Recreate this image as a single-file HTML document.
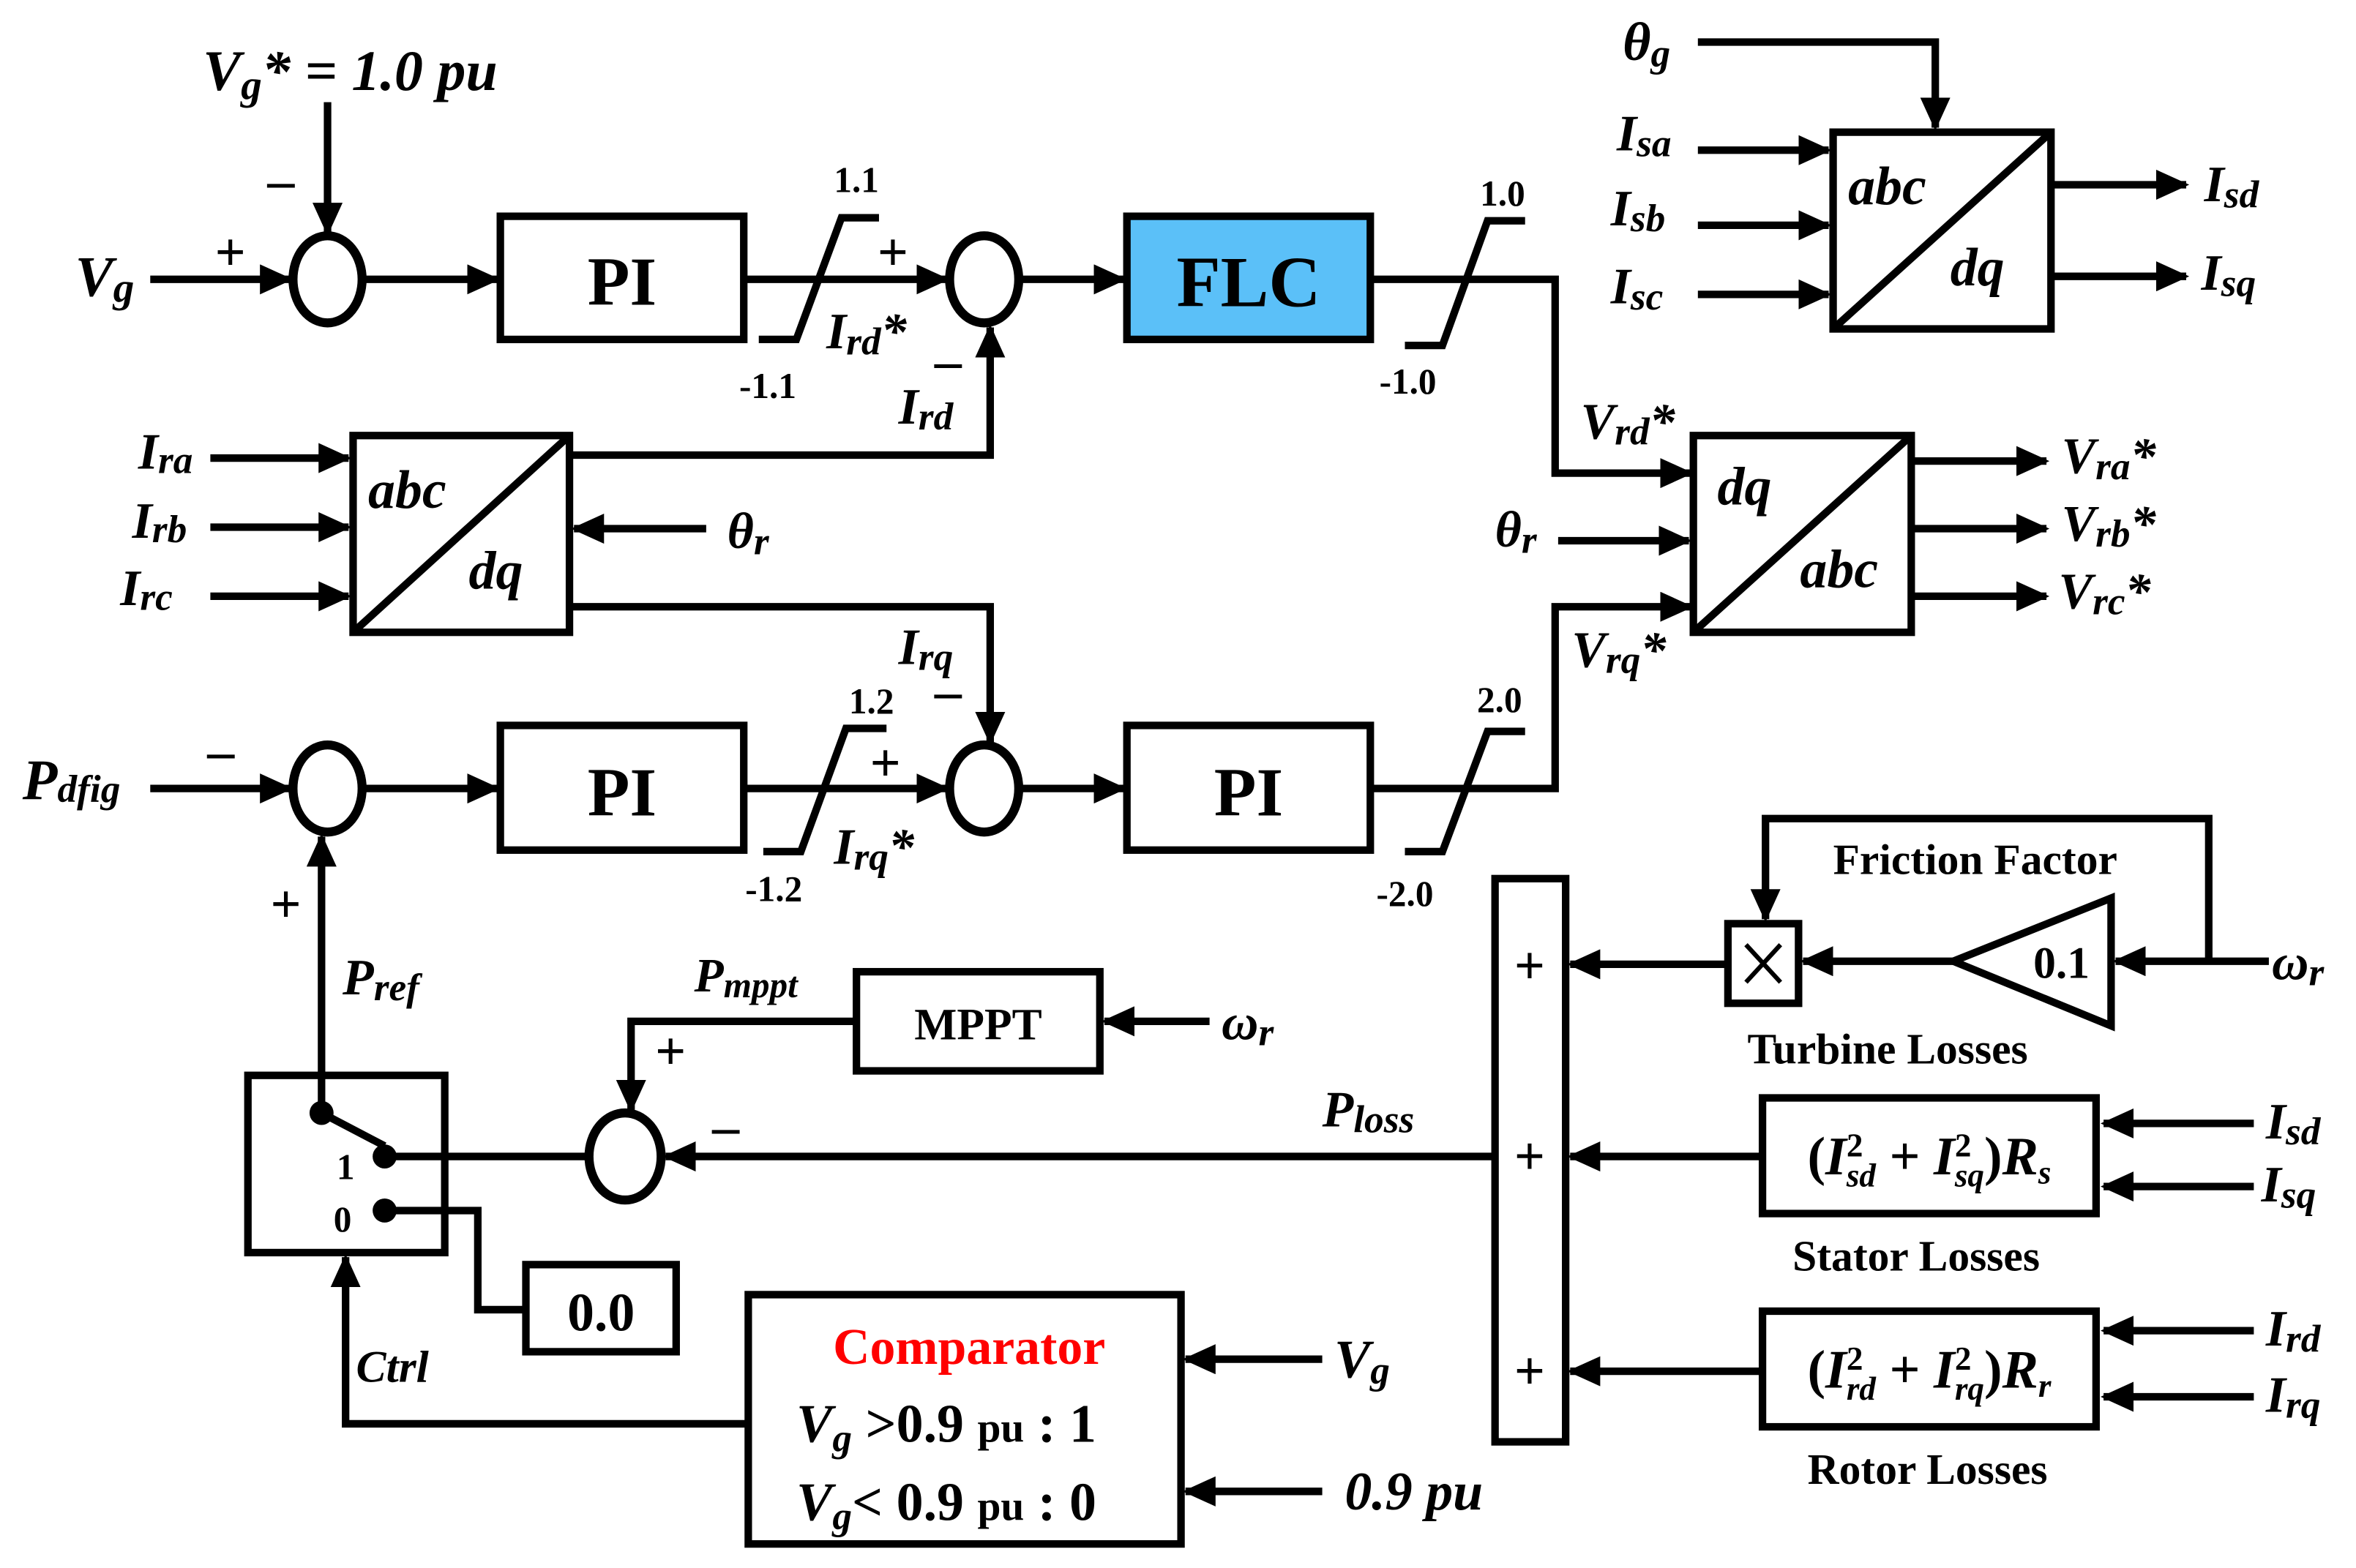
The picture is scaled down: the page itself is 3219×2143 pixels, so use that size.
<!DOCTYPE html>
<html><head><meta charset="utf-8"><style>
html,body{margin:0;padding:0;background:#fff;}
svg{display:block;}
text{font-family:"Liberation Serif",serif;font-weight:bold;fill:#000;}
.i{font-style:italic;}
</style></head><body>
<svg width="3219" height="2143" viewBox="0 0 1568 1044" preserveAspectRatio="none" xmlns="http://www.w3.org/2000/svg">
<defs>
<marker id="a" markerUnits="userSpaceOnUse" markerWidth="22" markerHeight="20" refX="20" refY="10" orient="auto"><path d="M0,0 L22,10 L0,20 Z" fill="#000"/></marker>
</defs>
<g fill="none" stroke="#000" stroke-width="5">
<line x1="218" y1="68" x2="218" y2="155" marker-end="url(#a)"/>
<ellipse cx="218" cy="186" rx="23" ry="29" stroke-width="6"/>
<line x1="100" y1="186" x2="193" y2="186" marker-end="url(#a)"/>
<line x1="241" y1="186" x2="331" y2="186" marker-end="url(#a)"/>
<rect x="333" y="144" width="162" height="82"/>
<line x1="495" y1="186" x2="630" y2="186" marker-end="url(#a)"/>
<polyline points="505,226 530,226 560,145 585,145"/>
<ellipse cx="655" cy="186" rx="23" ry="29" stroke-width="6"/>
<line x1="678" y1="186" x2="748" y2="186" marker-end="url(#a)"/>
<rect x="750" y="144" width="162" height="82" fill="#5bc0f8"/>
<polyline points="912,186 1035,186 1035,315 1125,315" marker-end="url(#a)"/>
<polyline points="935,230 960,230 990,147 1015,147"/>
<rect x="235" y="290" width="144" height="131"/>
<line x1="235" y1="421" x2="379" y2="290"/>
<line x1="140" y1="305" x2="232" y2="305" marker-end="url(#a)"/>
<line x1="140" y1="351" x2="232" y2="351" marker-end="url(#a)"/>
<line x1="140" y1="397" x2="232" y2="397" marker-end="url(#a)"/>
<line x1="470" y1="352" x2="382" y2="352" marker-end="url(#a)"/>
<polyline points="379,303 659,303 659,218" marker-end="url(#a)"/>
<polyline points="379,404 659,404 659,494" marker-end="url(#a)"/>
<line x1="100" y1="525" x2="193" y2="525" marker-end="url(#a)"/>
<ellipse cx="218" cy="525" rx="23" ry="29" stroke-width="6"/>
<line x1="241" y1="525" x2="331" y2="525" marker-end="url(#a)"/>
<rect x="333" y="483" width="162" height="83"/>
<line x1="495" y1="525" x2="630" y2="525" marker-end="url(#a)"/>
<polyline points="508,567 533,567 563,485 590,485"/>
<ellipse cx="655" cy="525" rx="23" ry="29" stroke-width="6"/>
<line x1="678" y1="525" x2="748" y2="525" marker-end="url(#a)"/>
<rect x="750" y="483" width="162" height="83"/>
<polyline points="912,525 1035,525 1035,404 1125,404" marker-end="url(#a)"/>
<polyline points="935,567 960,567 990,487 1015,487"/>
<rect x="1127" y="290" width="145" height="131"/>
<line x1="1127" y1="421" x2="1272" y2="290"/>
<line x1="1037" y1="360" x2="1124" y2="360" marker-end="url(#a)"/>
<line x1="1272" y1="307" x2="1362" y2="307" marker-end="url(#a)"/>
<line x1="1272" y1="352" x2="1362" y2="352" marker-end="url(#a)"/>
<line x1="1272" y1="397" x2="1362" y2="397" marker-end="url(#a)"/>
<polyline points="1130,28 1288,28 1288,85" marker-end="url(#a)"/>
<rect x="1220" y="88" width="145" height="131"/>
<line x1="1220" y1="219" x2="1365" y2="88"/>
<line x1="1130" y1="100" x2="1217" y2="100" marker-end="url(#a)"/>
<line x1="1130" y1="150" x2="1217" y2="150" marker-end="url(#a)"/>
<line x1="1130" y1="196" x2="1217" y2="196" marker-end="url(#a)"/>
<line x1="1365" y1="123" x2="1455" y2="123" marker-end="url(#a)"/>
<line x1="1365" y1="184" x2="1455" y2="184" marker-end="url(#a)"/>
<line x1="214" y1="740" x2="214" y2="557" marker-end="url(#a)"/>
<rect x="165" y="716" width="131" height="118"/>
<line x1="214" y1="741" x2="256" y2="763"/>
<line x1="262" y1="770" x2="392" y2="770"/>
<ellipse cx="416" cy="770" rx="24" ry="29" stroke-width="6"/>
<polyline points="256,806 318,806 318,872 350,872"/>
<rect x="350" y="842" width="100" height="58"/>
<polyline points="498,948 230,948 230,837" marker-end="url(#a)"/>
<rect x="570" y="647" width="162" height="66"/>
<line x1="805" y1="680" x2="735" y2="680" marker-end="url(#a)"/>
<polyline points="570,680 420,680 420,739" marker-end="url(#a)"/>
<rect x="498" y="862" width="288" height="166"/>
<line x1="880" y1="905" x2="789" y2="905" marker-end="url(#a)"/>
<line x1="880" y1="993" x2="789" y2="993" marker-end="url(#a)"/>
<line x1="995" y1="770" x2="443" y2="770" marker-end="url(#a)"/>
<rect x="995" y="585" width="47" height="375"/>
<line x1="1148" y1="642" x2="1045" y2="642" marker-end="url(#a)"/>
<line x1="1173" y1="770" x2="1045" y2="770" marker-end="url(#a)"/>
<line x1="1173" y1="913" x2="1045" y2="913" marker-end="url(#a)"/>
<rect x="1150" y="615" width="47" height="53"/>
<line x1="1162" y1="629" x2="1185" y2="654" stroke-width="3"/>
<line x1="1185" y1="629" x2="1162" y2="654" stroke-width="3"/>
<polygon points="1300,640 1405,598 1405,683"/>
<line x1="1300" y1="640" x2="1200" y2="640" marker-end="url(#a)"/>
<line x1="1510" y1="640" x2="1408" y2="640" marker-end="url(#a)"/>
<polyline points="1470,640 1470,545 1175,545 1175,612" marker-end="url(#a)"/>
<rect x="1173" y="731" width="222" height="77"/>
<rect x="1173" y="873" width="222" height="77"/>
<line x1="1500" y1="748" x2="1400" y2="748" marker-end="url(#a)"/>
<line x1="1500" y1="790" x2="1400" y2="790" marker-end="url(#a)"/>
<line x1="1500" y1="886" x2="1400" y2="886" marker-end="url(#a)"/>
<line x1="1500" y1="930" x2="1400" y2="930" marker-end="url(#a)"/>
</g>
<g fill="#000">
<circle cx="214" cy="741" r="8"/><circle cx="256" cy="770" r="8"/><circle cx="256" cy="806" r="8"/>
</g>
<text class="i" x="135" y="60" font-size="38">V<tspan font-size="28" dy="6">g</tspan><tspan dy="-6">* = 1.0 pu</tspan></text>
<text x="178" y="132" font-size="36">–</text>
<text x="143" y="180" font-size="36">+</text>
<text class="i" x="50" y="197" font-size="38">V<tspan font-size="28" dy="4">g</tspan></text>
<text x="414" y="203" font-size="46" text-anchor="middle">PI</text>
<text x="555" y="128" font-size="24">1.1</text>
<text x="492" y="265" font-size="24">-1.1</text>
<text x="584" y="180" font-size="36">+</text>
<text class="i" x="550" y="232" font-size="34">I<tspan font-size="26" dy="4">rd</tspan><tspan dy="-4">*</tspan></text>
<text x="831" y="204" font-size="48" text-anchor="middle">FLC</text>
<text x="985" y="137" font-size="24">1.0</text>
<text x="918" y="262" font-size="24">-1.0</text>
<text x="622" y="252" font-size="36">–</text>
<text class="i" x="598" y="282" font-size="34">I<tspan font-size="26" dy="4">rd</tspan></text>
<text class="i" x="92" y="312" font-size="34">I<tspan font-size="26" dy="3">ra</tspan></text>
<text class="i" x="88" y="358" font-size="34">I<tspan font-size="26" dy="3">rb</tspan></text>
<text class="i" x="80" y="403" font-size="34">I<tspan font-size="26" dy="3">rc</tspan></text>
<text class="i" x="245" y="338" font-size="36">abc</text>
<text class="i" x="312" y="392" font-size="36">dq</text>
<text class="i" x="484" y="365" font-size="34">θ<tspan font-size="26" dy="4">r</tspan></text>
<text class="i" x="598" y="442" font-size="34">I<tspan font-size="26" dy="4">rq</tspan></text>
<text x="622" y="472" font-size="36">–</text>
<text class="i" x="15" y="532" font-size="38">P<tspan font-size="26" dy="2">dfig</tspan></text>
<text x="138" y="512" font-size="36">–</text>
<text x="414" y="543" font-size="46" text-anchor="middle">PI</text>
<text x="565" y="475" font-size="24">1.2</text>
<text x="496" y="600" font-size="24">-1.2</text>
<text x="579" y="520" font-size="36">+</text>
<text class="i" x="555" y="575" font-size="34">I<tspan font-size="26" dy="4">rq</tspan><tspan dy="-4">*</tspan></text>
<text x="831" y="543" font-size="46" text-anchor="middle">PI</text>
<text x="983" y="474" font-size="24">2.0</text>
<text x="916" y="603" font-size="24">-2.0</text>
<text class="i" x="1052" y="292" font-size="34">V<tspan font-size="26" dy="4">rd</tspan><tspan dy="-4">*</tspan></text>
<text class="i" x="1046" y="444" font-size="34">V<tspan font-size="26" dy="4">rq</tspan><tspan dy="-4">*</tspan></text>
<text class="i" x="995" y="364" font-size="34">θ<tspan font-size="26" dy="4">r</tspan></text>
<text class="i" x="1143" y="336" font-size="36">dq</text>
<text class="i" x="1198" y="391" font-size="36">abc</text>
<text class="i" x="1372" y="315" font-size="34">V<tspan font-size="26" dy="4">ra</tspan><tspan dy="-4">*</tspan></text>
<text class="i" x="1372" y="360" font-size="34">V<tspan font-size="26" dy="4">rb</tspan><tspan dy="-4">*</tspan></text>
<text class="i" x="1370" y="405" font-size="34">V<tspan font-size="26" dy="4">rc</tspan><tspan dy="-4">*</tspan></text>
<text class="i" x="1080" y="40" font-size="36">θ<tspan font-size="26" dy="4">g</tspan></text>
<text class="i" x="1076" y="100" font-size="34">I<tspan font-size="26" dy="4">sa</tspan></text>
<text class="i" x="1072" y="150" font-size="34">I<tspan font-size="26" dy="4">sb</tspan></text>
<text class="i" x="1072" y="202" font-size="34">I<tspan font-size="26" dy="4">sc</tspan></text>
<text class="i" x="1230" y="136" font-size="36">abc</text>
<text class="i" x="1298" y="190" font-size="36">dq</text>
<text class="i" x="1467" y="134" font-size="34">I<tspan font-size="26" dy="4">sd</tspan></text>
<text class="i" x="1465" y="193" font-size="34">I<tspan font-size="26" dy="4">sq</tspan></text>
<text x="180" y="614" font-size="36">+</text>
<text class="i" x="228" y="662" font-size="34">P<tspan font-size="26" dy="4">ref</tspan></text>
<text x="224" y="785" font-size="24">1</text>
<text x="222" y="820" font-size="24">0</text>
<text x="400" y="886" font-size="36" text-anchor="middle">0.0</text>
<text class="i" x="237" y="920" font-size="30">Ctrl</text>
<text class="i" x="462" y="660" font-size="32">P<tspan font-size="24" dy="4">mppt</tspan></text>
<text x="436" y="712" font-size="36">+</text>
<text x="651" y="692" font-size="30" text-anchor="middle">MPPT</text>
<text class="i" x="813" y="692" font-size="34">ω<tspan font-size="26" dy="4">r</tspan></text>
<text x="474" y="762" font-size="36">–</text>
<text class="i" x="880" y="750" font-size="34">P<tspan font-size="26" dy="4">loss</tspan></text>
<text x="645" y="908" font-size="34" text-anchor="middle" style="fill:#f00">Comparator</text>
<text x="530" y="960" font-size="36"><tspan font-style="italic">V</tspan><tspan font-size="26" dy="6" font-style="italic">g</tspan><tspan dy="-6"> &gt;0.9 </tspan><tspan font-size="28">pu</tspan><tspan> : 1</tspan></text>
<text x="530" y="1012" font-size="36"><tspan font-style="italic">V</tspan><tspan font-size="26" dy="6" font-style="italic">g</tspan><tspan dy="-6">&lt; 0.9 </tspan><tspan font-size="28">pu</tspan><tspan> : 0</tspan></text>
<text class="i" x="888" y="917" font-size="36">V<tspan font-size="26" dy="4">g</tspan></text>
<text class="i" x="895" y="1005" font-size="36">0.9 pu</text>
<text x="1018" y="655" font-size="36" text-anchor="middle">+</text>
<text x="1018" y="782" font-size="36" text-anchor="middle">+</text>
<text x="1018" y="925" font-size="36" text-anchor="middle">+</text>
<text x="1220" y="582" font-size="29">Friction Factor</text>
<text x="1372" y="651" font-size="30" text-anchor="middle">0.1</text>
<text class="i" x="1512" y="652" font-size="34">ω<tspan font-size="26" dy="4">r</tspan></text>
<text x="1163" y="708" font-size="29">Turbine Losses</text>
<text x="1284" y="782" font-size="36" text-anchor="middle">(<tspan font-style="italic">I</tspan><tspan font-size="22" dy="-12">2</tspan><tspan font-size="22" dx="-11" dy="20" font-style="italic">sd</tspan><tspan dy="-8"> + </tspan><tspan font-style="italic">I</tspan><tspan font-size="22" dy="-12">2</tspan><tspan font-size="22" dx="-11" dy="20" font-style="italic">sq</tspan><tspan dy="-8">)</tspan><tspan font-style="italic">R</tspan><tspan font-size="22" dy="6" font-style="italic">s</tspan></text>
<text x="1284" y="924" font-size="36" text-anchor="middle">(<tspan font-style="italic">I</tspan><tspan font-size="22" dy="-12">2</tspan><tspan font-size="22" dx="-11" dy="20" font-style="italic">rd</tspan><tspan dy="-8"> + </tspan><tspan font-style="italic">I</tspan><tspan font-size="22" dy="-12">2</tspan><tspan font-size="22" dx="-11" dy="20" font-style="italic">rq</tspan><tspan dy="-8">)</tspan><tspan font-style="italic">R</tspan><tspan font-size="22" dy="6" font-style="italic">r</tspan></text>
<text class="i" x="1508" y="758" font-size="34">I<tspan font-size="26" dy="4">sd</tspan></text>
<text class="i" x="1505" y="800" font-size="34">I<tspan font-size="26" dy="4">sq</tspan></text>
<text x="1193" y="846" font-size="29">Stator Losses</text>
<text class="i" x="1508" y="896" font-size="34">I<tspan font-size="26" dy="4">rd</tspan></text>
<text class="i" x="1508" y="940" font-size="34">I<tspan font-size="26" dy="4">rq</tspan></text>
<text x="1203" y="988" font-size="29">Rotor Losses</text>
</svg>
</body></html>
